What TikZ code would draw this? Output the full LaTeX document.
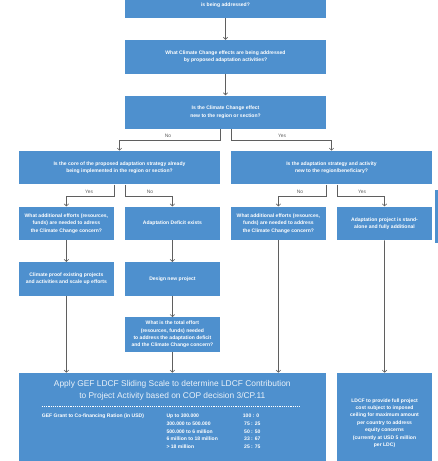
\documentclass[tikz,border=0pt]{standalone}
\usepackage{fontspec}
\setmainfont{Liberation Sans}
\usetikzlibrary{arrows.meta}
\definecolor{boxblue}{RGB}{78,144,206}
\definecolor{linegray}{RGB}{95,95,95}
\tikzset{
  box/.style={fill=boxblue, text=white, align=center, inner sep=0pt,
    font=\fontsize{5.05}{7.4}\selectfont\bfseries},
  wide/.style={box, minimum width=201, minimum height=33.5},
  narrow/.style={box, minimum width=94.7, minimum height=33.5},
  conn/.style={draw=linegray, line width=0.75pt},
  arr/.style={conn, -{Straight Barb[length=2.2pt,width=4.5pt,line width=0.6pt]}},
  lbl/.style={text=linegray, font=\fontsize{4.9}{6}\selectfont, inner sep=0pt},
  tabtxt/.style={text=white, font=\fontsize{5.05}{6}\selectfont\bfseries, inner sep=0pt, anchor=west},
}
\begin{document}
\begin{tikzpicture}[x=1pt,y=-1pt]
\useasboundingbox (0,0) rectangle (437,461);
% top flow
\node[box, minimum width=201, minimum height=40] (top) at (225.5,-2) {};
\node[box, fill=none] (toptxt) at (225.5,5) {is being addressed?};
\node[wide] (b2) at (225.5,56.75) {What Climate Change effects are being addressed\\by proposed adaptation activities?};
\node[wide] (b3) at (225.5,112.25) {Is the Climate Change effect\\new to the region or section?};
\draw[arr] (top.south) -- (b2.north);
\draw[arr] (b2.south) -- (b3.north);
% second level
\node[wide] (l1) at (119.5,167.6) {Is the core of the proposed adaptation strategy already\\being implemented in the region or section?};
\node[wide] (r1) at (331.5,167.6) {Is the adaptation strategy and activity\\new to the region/beneficiary?};
\draw[arr] ([xshift=-5.5pt]b3.south) -- ++(0,11) -| (l1.north);
\draw[arr] ([xshift=5.5pt]b3.south) -- ++(0,11) -| (r1.north);
\node[lbl] (no1) at (168,136) {No};
\node[lbl] (yes1) at (282,136) {Yes};
% third level
\node[narrow] (ll) at (66.4,223.4) {What additional efforts (resources,\\funds) are needed to adress\\the Climate Change concern?};
\node[narrow] (lr) at (172.4,223.4) {Adaptation Deficit exists};
\node[narrow] (rl) at (278.4,223.4) {What additional efforts (resources,\\funds) are needed to address\\the Climate Change concern?};
\node[narrow] (rr) at (384.5,223.4) {Adaptation project is stand-\\alone and fully additional};
\node[box, anchor=north west, minimum width=10, minimum height=53] (side) at (434.3,190) {};
\draw[arr] ([xshift=-5.5pt]l1.south) -- ++(0,11.7) -| (ll.north);
\draw[arr] ([xshift=5.5pt]l1.south) -- ++(0,11.7) -| (lr.north);
\draw[arr] ([xshift=-5.5pt]r1.south) -- ++(0,11.7) -| (rl.north);
\draw[arr] ([xshift=5.5pt]r1.south) -- ++(0,11.7) -| (rr.north);
\node[lbl] (yes2) at (89,192) {Yes};
\node[lbl] (no2) at (150,192) {No};
\node[lbl] (no3) at (300,192) {No};
\node[lbl] (yes3) at (362,192) {Yes};
% fourth level
\node[narrow] (cp) at (66.4,278.9) {Climate proof existing projects\\and activities and scale up efforts};
\node[narrow] (dn) at (172.4,278.9) {Design new project};
\node[narrow, minimum height=34.4] (te) at (172.4,334.5) {What is the total effort\\(resources, funds) needed\\to address the adaptation deficit\\and the Climate Change concern?};
\draw[arr] (ll.south) -- (cp.north);
\draw[arr] (lr.south) -- (dn.north);
\draw[arr] (dn.south) -- (te.north);
% bottom boxes
\node[box, anchor=north west, minimum width=306.7, minimum height=100] (big) at (19,372.7) {};
\node[box, anchor=north west, minimum width=94.7, minimum height=100] (rbox) at (337,372.7)
  {LDCF to provide full project\\cost subject to imposed\\ceiling for maximum amount\\per country to address\\equity concerns\\(currently at USD 5 million\\per LDC)};
\draw[arr] (cp.south) -- (cp.south |- big.north);
\draw[arr] (te.south) -- (te.south |- big.north);
\draw[arr] (rl.south) -- (rl.south |- big.north);
\draw[arr] (rr.south) -- (rbox.north);
% big box content
\node[align=center, text=white, text opacity=0.88, inner sep=0pt,
  font=\fontsize{8.4}{11.7}\selectfont] (title) at (172.3,390)
  {Apply GEF LDCF Sliding Scale to determine LDCF Contribution\\to Project Activity based on COP decision 3/CP.11};
\draw[white, line width=0.4pt, dash pattern=on 1.2pt off 1pt] (41.7,406) -- (301,406);
\node[tabtxt] (head) at (41.7,416) {GEF Grant to Co-financing Ration (in USD)};
\node[tabtxt] (r1a) at (166.3,416) {Up to 300.000};
\node[tabtxt] (r2a) at (166.3,423.7) {300.000 to 500.000};
\node[tabtxt] (r3a) at (166.3,431.4) {500.000 to 6 million};
\node[tabtxt] (r4a) at (166.3,439.1) {6 million to 18 million};
\node[tabtxt] (r5a) at (166.3,446.8) {> 18 million};
\node[tabtxt] (r1b) at (242.7,416) {100 : 0};
\node[tabtxt] (r2b) at (244,423.7) {75 : 25};
\node[tabtxt] (r3b) at (244,431.4) {50 : 50};
\node[tabtxt] (r4b) at (244,439.1) {33 : 67};
\node[tabtxt] (r5b) at (244,446.8) {25 : 75};
\end{tikzpicture}
\end{document}
